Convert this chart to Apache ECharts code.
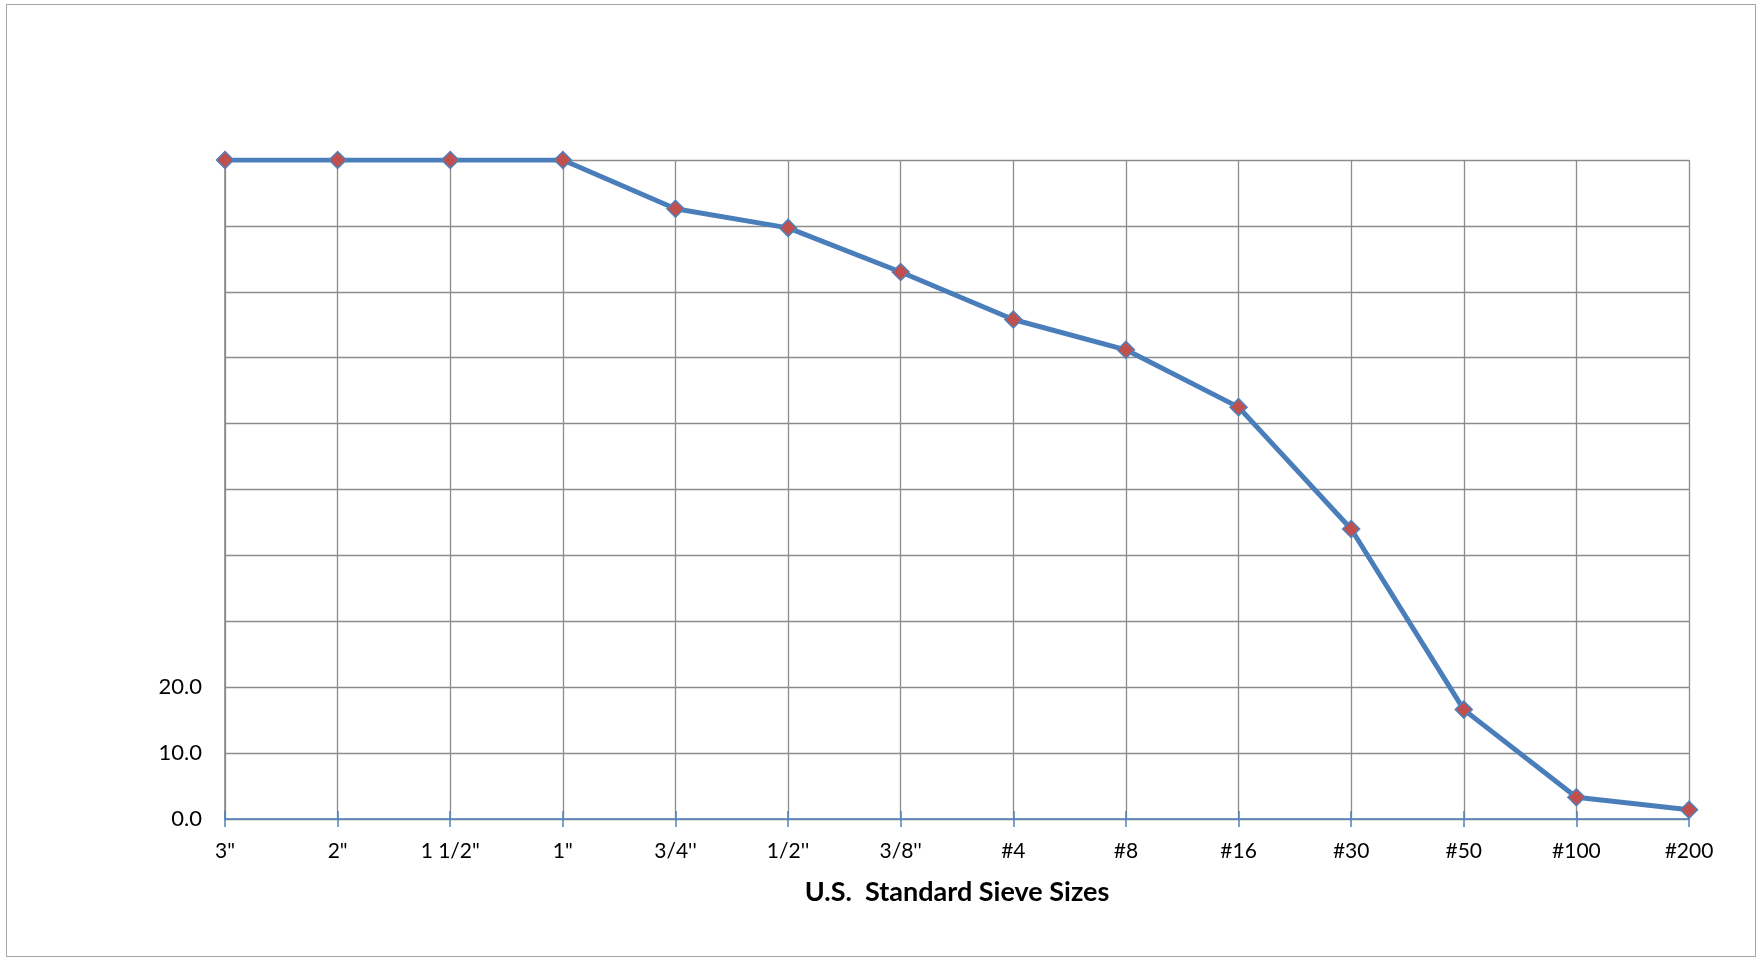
<!DOCTYPE html>
<html>
<head>
<meta charset="utf-8">
<script src="https://cdn.jsdelivr.net/npm/echarts@6/dist/echarts.min.js"></script>
<style>
  html, body { margin: 0; padding: 0; background: #ffffff; }
  #frame { position: absolute; left: 6px; top: 4px; width: 1750px; height: 953px; border: 1.5px solid #a6a6a6; box-sizing: border-box; }
  #chart { position: absolute; left: 0; top: 0; width: 1759px; height: 959px; }
</style>
</head>
<body>
<div id="frame"></div>
<div id="chart"></div>
<script>
const categories = ['3"', '2"', '1 1/2"', '1"', "3/4''", "1/2''", "3/8''", '#4', '#8', '#16', '#30', '#50', '#100', '#200'];
const percentPassing = [100, 100, 100, 100, 92.6, 89.7, 83.0, 75.8, 71.2, 62.5, 44.0, 16.6, 3.3, 1.4];
const yTickValues = [0, 10, 20];
const xTitle = 'U.S.  Standard Sieve Sizes';

const chart = echarts.init(document.getElementById('chart'), null, { renderer: 'canvas' });
const FONT = 'Lato';
const option = {
  animation: false,
  backgroundColor: 'transparent',
  grid: { left: 225, top: 160, right: 70, bottom: 140, containLabel: false },
  xAxis: [
    {
      type: 'category',
      data: categories,
      boundaryGap: false,
      position: 'bottom',
      axisLine: { show: true, lineStyle: { color: '#4F81BD', width: 1.5 } },
      axisTick: { show: true, length: 8, inside: false, lineStyle: { color: '#4F81BD', width: 1.5 } },
      axisLabel: { show: true, margin: 22, color: '#000000', fontFamily: FONT, fontSize: 21 },
      splitLine: { show: true, lineStyle: { color: '#8c8c8c', width: 1.3 } },
      name: xTitle,
      nameLocation: 'middle',
      nameGap: 60,
      nameTextStyle: { color: '#000000', fontFamily: FONT, fontSize: 27, fontWeight: 'bold' },
      z: 3
    },
    {
      type: 'category',
      data: categories,
      boundaryGap: false,
      position: 'bottom',
      axisLine: { show: false },
      axisTick: { show: true, length: 8, inside: true, lineStyle: { color: '#4F81BD', width: 1.5 } },
      axisLabel: { show: false },
      splitLine: { show: false },
      z: 3
    }
  ],
  yAxis: {
    type: 'value',
    min: 0,
    max: 100,
    interval: 10,
    axisLine: { show: true, lineStyle: { color: '#868686', width: 1.6 } },
    axisTick: { show: false },
    axisLabel: {
      margin: 23,
      color: '#000000',
      fontFamily: FONT,
      fontSize: 22,
      formatter: function (v) { return yTickValues.indexOf(v) >= 0 ? v.toFixed(1) : ''; }
    },
    splitLine: { show: true, lineStyle: { color: '#8c8c8c', width: 1.3 } }
  },
  series: [
    {
      type: 'line',
      xAxisIndex: 0,
      data: percentPassing,
      symbol: 'diamond',
      symbolSize: 17,
      showAllSymbol: true,
      lineStyle: { color: '#4A7EBB', width: 5 },
      itemStyle: { color: '#C0504D', borderColor: '#4F81BD', borderWidth: 1.5 },
      z: 5
    }
  ]
};
chart.setOption(option);
</script>
</body>
</html>
